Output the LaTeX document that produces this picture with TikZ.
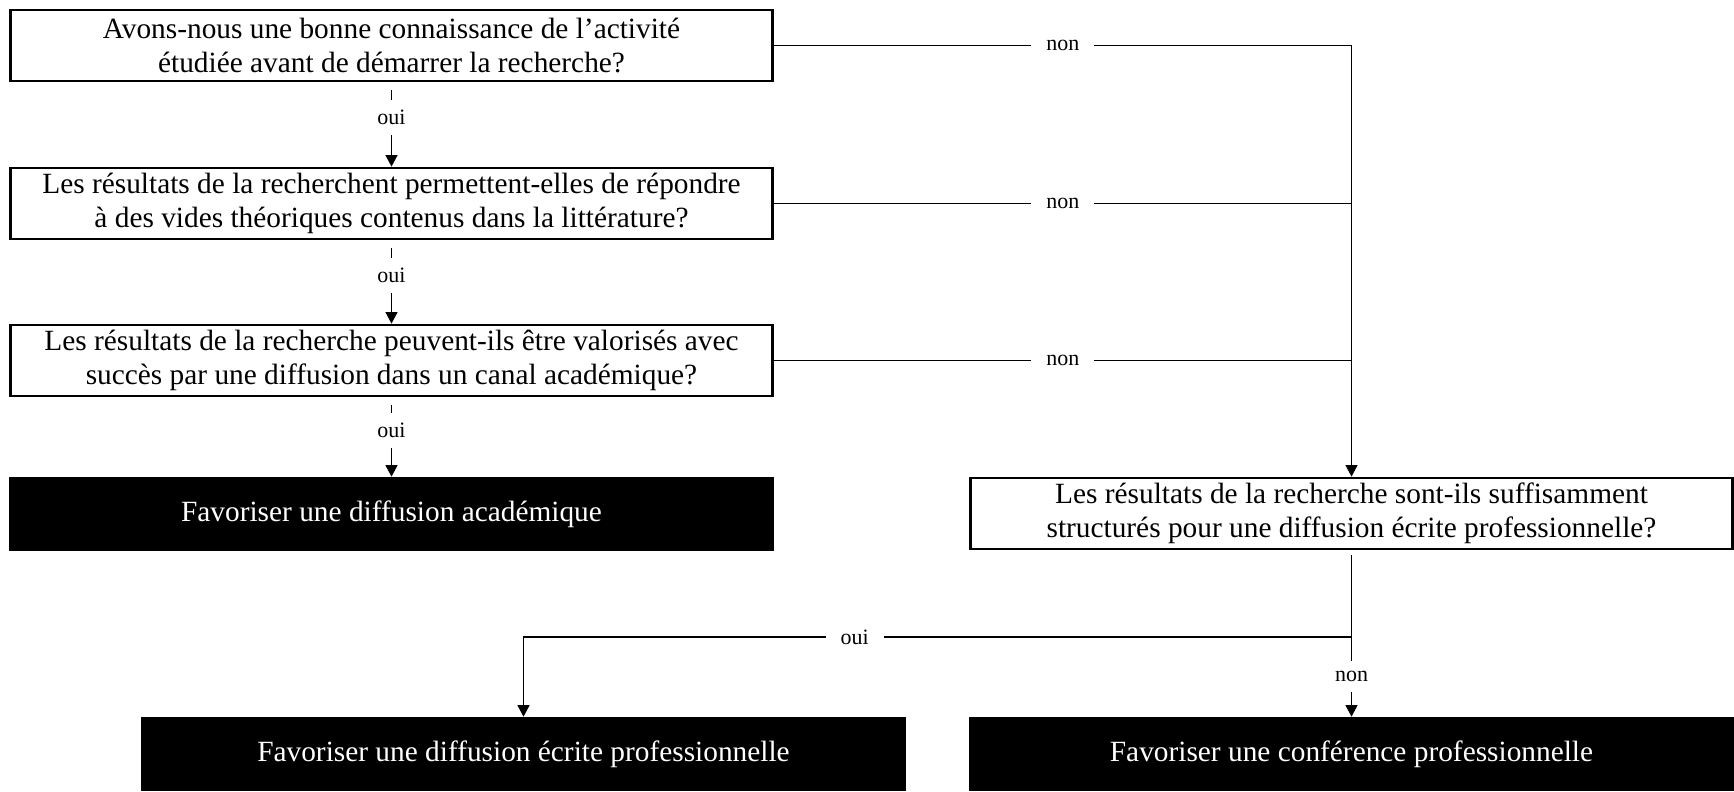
\documentclass[tikz,border=0pt]{standalone}
\usepackage{fontspec}
\setmainfont{Liberation Serif}
\usetikzlibrary{arrows.meta}

\begin{document}
\begin{tikzpicture}[
  question/.style={draw, line width=1.6pt, minimum width=15.25cm, minimum height=1.42cm,
                   align=center, inner sep=0pt, font=\fontsize{16.7}{19.3}\selectfont},
  outcome/.style={fill=black, text=white, minimum width=15.3cm, minimum height=1.48cm,
                  font=\fontsize{16.7}{19.3}\selectfont},
  line/.style={line width=0.6pt},
  arr/.style={line, -{Triangle[width=6.8pt, length=6.5pt]}},
  lab/.style={fill=white, inner xsep=0.3cm, inner ysep=0.2cm, font=\fontsize{12.5}{14}\selectfont}
]
\useasboundingbox (0,0) rectangle (34.68,-15.82);

% left column: questions
\node[question] (q1) at (7.83,-0.91)
  {Avons-nous une bonne connaissance de l’activité\\étudiée avant de démarrer la recherche?};
\node[question] (q2) at (7.83,-4.07)
  {Les résultats de la recherchent permettent-elles de répondre\\à des vides théoriques contenus dans la littérature?};
\node[question] (q3) at (7.83,-7.21)
  {Les résultats de la recherche peuvent-ils être valorisés avec\\succès par une diffusion dans un canal académique?};
\node[outcome] (a1) at (7.83,-10.28) {Favoriser une diffusion académique};

% right column
\node[question] (q4) at (27.03,-10.27)
  {Les résultats de la recherche sont-ils suffisamment\\structurés pour une diffusion écrite professionnelle?};
\node[outcome] (r1) at (10.47,-15.08) {Favoriser une diffusion écrite professionnelle};
\node[outcome] (r2) at (27.03,-15.08) {Favoriser une conférence professionnelle};

\coordinate (split) at (27.03,-12.74);

% oui
\foreach \a/\b in {q1/q2, q2/q3, q3/a1}
  \draw[arr, shorten <=0.15cm] (\a) -- node[lab, pos=0.42] {oui} (\b);

% non
\draw[arr] (q1) -- node[lab] {non} (q1 -| q4) -- (q4);
\foreach \q in {q2, q3}
  \draw[line] (\q) -- node[lab] {non} (\q -| q4);

\draw[arr, shorten <=0.1cm] (q4) -- node[lab, pos=0.76] {non} (r2);
\draw[arr] (split) -| node[lab, pos=0.3] {oui} (r1);
\end{tikzpicture}
\end{document}
